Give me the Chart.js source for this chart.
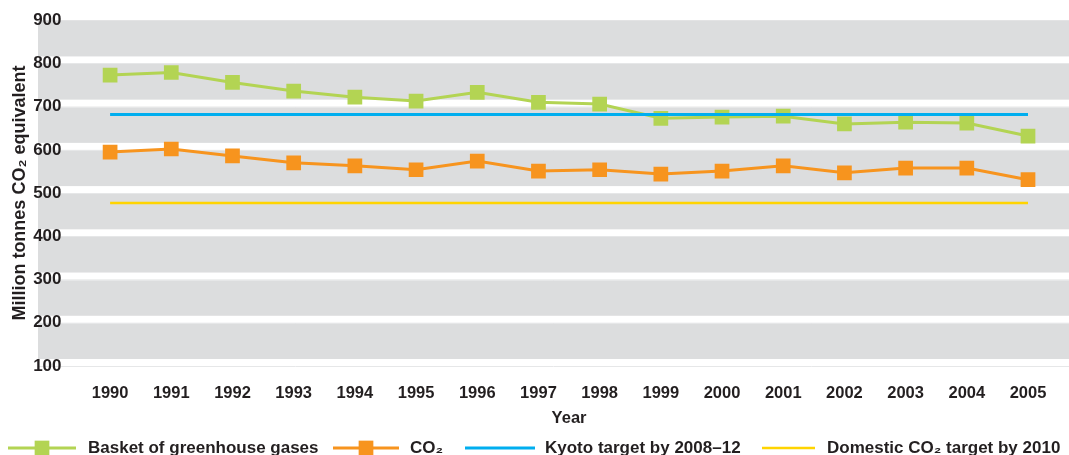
<!DOCTYPE html>
<html>
<head>
<meta charset="utf-8">
<title>UK greenhouse gas emissions 1990–2005</title>
<script src="https://cdn.jsdelivr.net/npm/chart.js@4.4.1/dist/chart.umd.min.js"></script>
<style>
  html, body { margin: 0; padding: 0; background: #ffffff; }
  canvas { display: block; }
</style>
</head>
<body>
<canvas id="chart" width="1069" height="455"></canvas>
<script>
// Emissions, million tonnes CO2 equivalent
const years = ['1990', '1991', '1992', '1993', '1994', '1995', '1996', '1997',
               '1998', '1999', '2000', '2001', '2002', '2003', '2004', '2005'];
const basketGases = [773, 779, 756, 736, 722, 713, 733, 710, 706, 673, 676, 678, 660, 664, 662, 632];
const co2Emissions = [595, 602, 586, 570, 563, 554, 574, 551, 554, 544, 551, 563, 547, 558, 558, 531];
const kyotoTarget = 682;
const domesticTarget = 477;
const yTicks = [100, 200, 300, 400, 500, 600, 700, 800, 900];

const TEXT = '#231f20';
const FONT = '"Liberation Sans", Arial, Helvetica, sans-serif';
const GREEN = '#b3d453';
const ORANGE = '#f7941e';
const BLUE = '#00aeef';
const YELLOW = '#ffd400';
const BAND = '#dcddde';

// Grey horizontal bands with a white stripe sitting on top of each gridline
const bandPlugin = {
  id: 'bands',
  beforeDraw(chart) {
    const { ctx, scales: { y } } = chart;
    const left = 38, right = chart.width, stripe = 7;
    ctx.save();
    ctx.fillStyle = BAND;
    for (let i = 0; i < yTicks.length - 1; i++) {
      const top = y.getPixelForValue(yTicks[i + 1]);
      const bottom = y.getPixelForValue(yTicks[i]) - stripe;
      ctx.fillRect(left, top, right - left, bottom - top);
    }
    ctx.strokeStyle = '#e6e7e8';
    ctx.lineWidth = 1;
    for (let i = 0; i < yTicks.length - 1; i++) {
      const py = Math.round(y.getPixelForValue(yTicks[i])) + 0.5;
      ctx.beginPath();
      ctx.moveTo(left, py);
      ctx.lineTo(right, py);
      ctx.stroke();
    }
    ctx.restore();
  }
};

// Legend row along the bottom: line sample, optional square marker, label
const legendLayout = [
  { x0: 8, x1: 76, tx: 88 },
  { x0: 333, x1: 399, tx: 410 },
  { x0: 465, x1: 535, tx: 545 },
  { x0: 762, x1: 815, tx: 827 }
];
const legendPlugin = {
  id: 'bottomLegend',
  afterDraw(chart) {
    const { ctx } = chart;
    const cy = 448;
    ctx.save();
    chart.data.datasets.forEach((ds, i) => {
      const L = legendLayout[i];
      ctx.strokeStyle = ds.borderColor;
      ctx.lineWidth = ds.borderWidth;
      ctx.beginPath();
      ctx.moveTo(L.x0, cy);
      ctx.lineTo(L.x1, cy);
      ctx.stroke();
      if (ds.pointRadius > 0) {
        const side = 14.7;
        ctx.fillStyle = ds.pointBackgroundColor;
        ctx.fillRect((L.x0 + L.x1) / 2 - side / 2, cy - side / 2, side, side);
      }
      ctx.fillStyle = TEXT;
      ctx.font = 'bold 17px ' + FONT;
      ctx.textAlign = 'left';
      ctx.textBaseline = 'middle';
      ctx.fillText(ds.label, L.tx, cy);
    });
    ctx.restore();
  }
};

new Chart(document.getElementById('chart'), {
  type: 'line',
  data: {
    labels: years,
    datasets: [
      {
        label: 'Basket of greenhouse gases',
        data: basketGases,
        borderColor: GREEN,
        borderWidth: 3,
        pointStyle: 'rect',
        pointRadius: 10.4,
        pointHoverRadius: 10.4,
        pointBorderWidth: 0,
        pointBackgroundColor: GREEN,
        tension: 0,
        order: 2
      },
      {
        label: 'CO₂',
        data: co2Emissions,
        borderColor: ORANGE,
        borderWidth: 3,
        pointStyle: 'rect',
        pointRadius: 10.4,
        pointHoverRadius: 10.4,
        pointBorderWidth: 0,
        pointBackgroundColor: ORANGE,
        tension: 0,
        order: 3
      },
      {
        label: 'Kyoto target by 2008–12',
        data: years.map(() => kyotoTarget),
        borderColor: BLUE,
        borderWidth: 3,
        pointRadius: 0,
        pointHoverRadius: 0,
        order: 0
      },
      {
        label: 'Domestic CO₂ target by 2010',
        data: years.map(() => domesticTarget),
        borderColor: YELLOW,
        borderWidth: 2.5,
        pointRadius: 0,
        pointHoverRadius: 0,
        order: 1
      }
    ]
  },
  options: {
    responsive: false,
    devicePixelRatio: 1,
    animation: false,
    layout: { padding: { top: 19, right: 2, bottom: 25, left: 0 } },
    plugins: {
      legend: { display: false },
      tooltip: { enabled: false }
    },
    scales: {
      x: {
        type: 'category',
        offset: true,
        grid: { display: false },
        border: { display: false },
        ticks: {
          color: TEXT,
          font: { family: FONT, size: 16.5, weight: 'bold' },
          padding: 10,
          maxRotation: 0,
          autoSkip: false
        },
        title: {
          display: true,
          text: 'Year',
          color: TEXT,
          font: { family: FONT, size: 16.5, weight: 'bold' },
          padding: { top: 0, bottom: 2 }
        },
        afterFit(scale) { scale.height = 64; }
      },
      y: {
        min: 100,
        max: 900,
        grid: { display: false },
        border: { display: false },
        ticks: {
          stepSize: 100,
          color: TEXT,
          font: { family: FONT, size: 17, weight: 'bold' },
          padding: 10
        },
        title: {
          display: true,
          text: 'Million tonnes CO₂ equivalent',
          color: TEXT,
          font: { family: FONT, size: 18, weight: 'bold' },
          padding: { top: 9, bottom: 0 }
        },
        afterFit(scale) { scale.width = 79.5; }
      }
    }
  },
  plugins: [bandPlugin, legendPlugin]
});
</script>
</body>
</html>
